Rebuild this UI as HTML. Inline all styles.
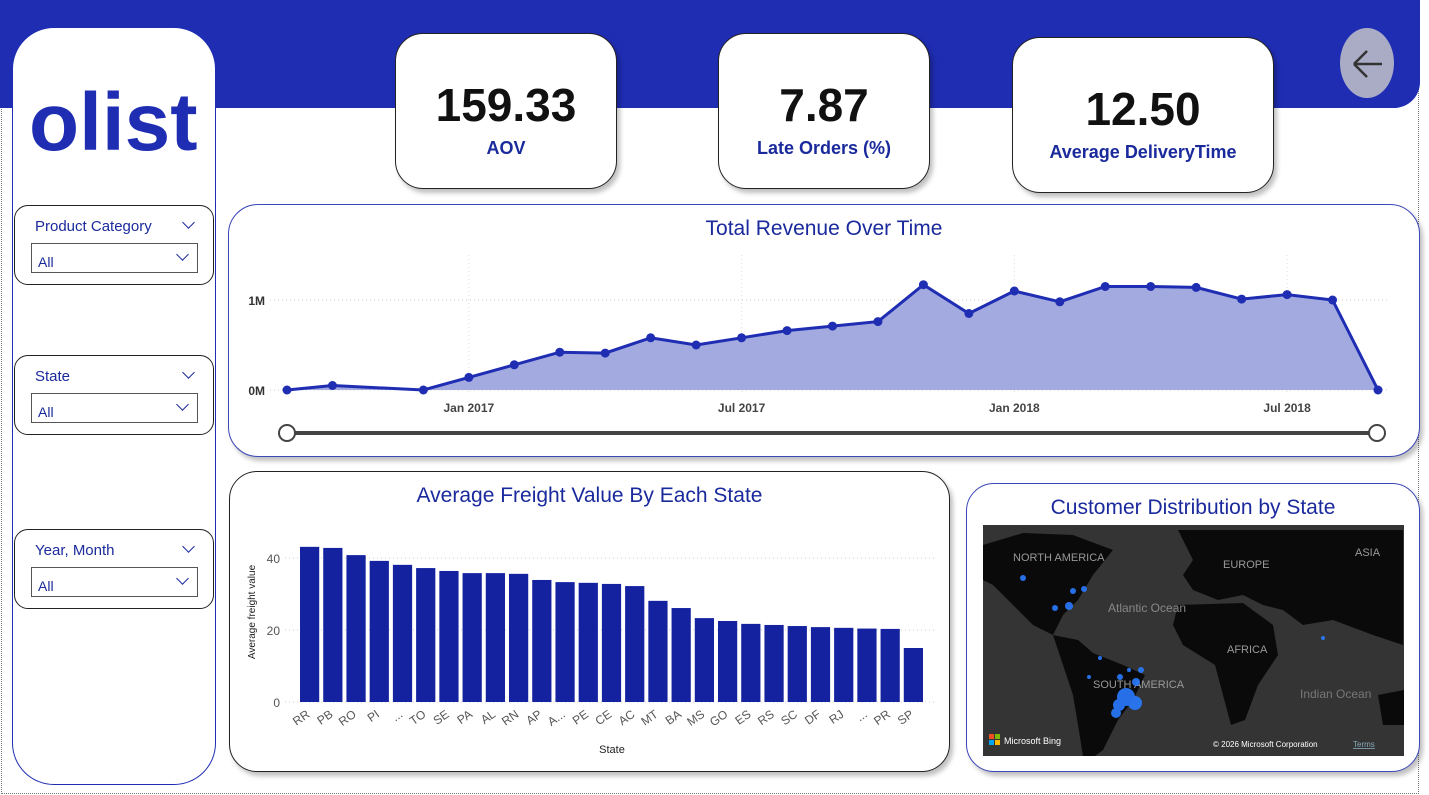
<!DOCTYPE html>
<html><head><meta charset="utf-8"><style>
*{box-sizing:border-box;margin:0;padding:0}
body{width:1429px;height:795px;background:#fff;position:relative;overflow:hidden;font-family:"Liberation Sans","DejaVu Sans",sans-serif}
.abs{position:absolute}
.card{position:absolute;background:#fff;border:1.5px solid #222;border-radius:28px;box-shadow:3px 4px 5px rgba(0,0,0,0.25)}
.kv{position:absolute;width:100%;text-align:center;font-weight:bold;color:#111;font-family:"Liberation Sans",sans-serif}
.kl{position:absolute;width:100%;text-align:center;font-weight:bold;color:#1a2a9c;font-size:18px}
.slicer{position:absolute;left:14px;width:200px;height:80px;border:1.5px solid #222;border-radius:14px;background:#fff}
.slicer .t{position:absolute;left:20px;top:12px;font-size:15px;color:#1a2a9c}
.slicer .c{position:absolute;right:20px;top:12px;width:9px;height:9px;border-right:1.5px solid #1a2a9c;border-bottom:1.5px solid #1a2a9c;transform:rotate(45deg)}
.slicer .dd{position:absolute;left:16px;top:37px;width:167px;height:30px;border:1px solid #555;font-size:14px;color:#1a2a9c;padding:10px 0 0 6px}
.slicer .dd .c{top:6px;right:10px}
.title{position:absolute;width:100%;text-align:center;color:#1a2a9c;font-size:21px}
</style></head><body>
<div class="abs" style="left:1px;top:1px;width:1418px;height:793px;border:1px dotted #777"></div>
<div class="abs" style="left:0;top:0;width:1420px;height:108px;background:#1f2db3;border-radius:0 0 26px 0"></div>
<div class="abs" style="left:12px;top:27px;width:204px;height:758px;background:#fff;border:1.5px solid #1f2db3;border-radius:42px"></div>
<div class="abs" style="left:29px;top:80px;font-size:82px;font-weight:bold;color:#1f2db3;letter-spacing:0px;line-height:86px;font-family:'Liberation Sans',sans-serif">olist</div>

<div class="slicer" style="top:205px"><div class="t">Product Category</div><div class="c"></div><div class="dd">All<div class="c"></div></div></div>
<div class="slicer" style="top:355px"><div class="t">State</div><div class="c"></div><div class="dd">All<div class="c"></div></div></div>
<div class="slicer" style="top:529px"><div class="t">Year, Month</div><div class="c"></div><div class="dd">All<div class="c"></div></div></div>

<div class="card" style="left:395px;top:33px;width:222px;height:156px"><div class="kv" style="top:44px;font-size:46px">159.33</div><div class="kl" style="top:104px">AOV</div></div>
<div class="card" style="left:718px;top:33px;width:212px;height:156px"><div class="kv" style="top:44px;font-size:46px">7.87</div><div class="kl" style="top:104px">Late Orders (%)</div></div>
<div class="card" style="left:1012px;top:37px;width:262px;height:156px"><div class="kv" style="top:44px;font-size:46px">12.50</div><div class="kl" style="top:104px">Average DeliveryTime</div></div>
<div class="abs" style="left:1338px;top:26px;width:58px;height:74px;border-radius:50%;background:#a9acc4;border:2px solid #1f2db3"><svg width="54" height="70" style="position:absolute;left:0;top:0"><path d="M14 36 H42 M14 36 L27 23 M14 36 L27 49" stroke="#333" stroke-width="2.5" fill="none"/></svg></div>

<div class="card" style="left:228px;top:204px;width:1192px;height:253px;border-color:#3a47b8;border-radius:30px"><div class="title" style="top:12px">Total Revenue Over Time</div></div>
<svg class="abs" style="left:0;top:0" width="1429" height="795" id="lc"></svg>

<div class="card" style="left:229px;top:471px;width:721px;height:301px"><div class="title" style="top:12px">Average Freight Value By Each State</div></div>
<svg class="abs" style="left:0;top:0;pointer-events:none" width="1429" height="795" id="bc"></svg>

<div class="card" style="left:966px;top:483px;width:454px;height:289px;border-color:#3a47b8"><div class="title" style="top:12px">Customer Distribution by State</div></div>
<svg class="abs" style="left:983px;top:525px" width="421" height="231">
<rect width="421" height="231" fill="#343434"/>
<path d="M0 20 L40 8 L90 10 L130 25 L110 50 L95 75 L80 90 L70 110 L50 100 L30 80 L10 60 L0 55Z" fill="#0a0a0a"/>
<path d="M70 110 L95 115 L110 128 L140 140 L162 150 L150 175 L135 195 L120 225 L112 231 L100 231 L95 200 L90 170 L80 140Z" fill="#0a0a0a"/>
<path d="M195 5 L420 5 L420 120 L390 110 L350 95 L320 100 L300 85 L280 80 L260 70 L235 75 L210 65 L200 50 L210 35Z" fill="#0a0a0a"/>
<path d="M195 80 L260 78 L290 100 L295 130 L275 160 L262 195 L248 200 L240 170 L232 140 L200 120 L190 100Z" fill="#0a0a0a"/>
<path d="M395 170 L421 165 L421 200 L400 200Z" fill="#0a0a0a"/>
<text x="30" y="36" fill="#999" font-size="11">NORTH AMERICA</text>
<text x="240" y="43" fill="#999" font-size="11">EUROPE</text>
<text x="372" y="31" fill="#999" font-size="11">ASIA</text>
<text x="125" y="87" fill="#888" font-size="12">Atlantic Ocean</text>
<text x="244" y="128" fill="#999" font-size="11">AFRICA</text>
<text x="110" y="163" fill="#999" font-size="11">SOUTH AMERICA</text>
<text x="317" y="173" fill="#777" font-size="12">Indian Ocean</text>
<g fill="#2a7bff" opacity="0.9"><circle cx="143" cy="172" r="9"/><circle cx="152" cy="178" r="7"/><circle cx="136" cy="180" r="6"/><circle cx="133" cy="188" r="5"/><circle cx="153" cy="157" r="4"/><circle cx="158" cy="145" r="3"/><circle cx="137" cy="152" r="3"/><circle cx="86" cy="81" r="4"/><circle cx="90" cy="66" r="3"/><circle cx="101" cy="64" r="3"/><circle cx="40" cy="53" r="3"/><circle cx="72" cy="83" r="3"/><circle cx="117" cy="133" r="2"/><circle cx="106" cy="152" r="2"/><circle cx="146" cy="145" r="2"/><circle cx="340" cy="113" r="2"/></g>
<rect x="6" y="209" width="5" height="5" fill="#f25022"/><rect x="12" y="209" width="5" height="5" fill="#7fba00"/><rect x="6" y="215" width="5" height="5" fill="#00a4ef"/><rect x="12" y="215" width="5" height="5" fill="#ffb900"/>
<text x="21" y="219" fill="#fff" font-size="9">Microsoft Bing</text>
<text x="230" y="222" fill="#fff" font-size="8">© 2026 Microsoft Corporation</text>
<text x="370" y="222" fill="#8ab" font-size="8" text-decoration="underline">Terms</text>
</svg>

<script>
const NS="http://www.w3.org/2000/svg";
function mk(p,t,a){const e=document.createElementNS(NS,t);for(const k in a)e.setAttribute(k,a[k]);p.appendChild(e);return e;}
// Line chart data
const months=["2016-09","2016-10","2016-12","2017-01","2017-02","2017-03","2017-04","2017-05","2017-06","2017-07","2017-08","2017-09","2017-10","2017-11","2017-12","2018-01","2018-02","2018-03","2018-04","2018-05","2018-06","2018-07","2018-08","2018-09"];
const revenue=[0,0.05,0,0.14,0.28,0.42,0.41,0.58,0.50,0.58,0.66,0.71,0.76,1.17,0.85,1.10,0.98,1.15,1.15,1.14,1.01,1.06,1.00,0];
const yTicks=[0,1];
const yTickLabels=["0M","1M"];
const xTicks=["2017-01","2017-07","2018-01","2018-07"];
const xTickLabels=["Jan 2017","Jul 2017","Jan 2018","Jul 2018"];
function mIdx(s){const [y,m]=s.split("-").map(Number);return y*12+m-1;}
const m0=mIdx(months[0]),m1=mIdx(months[months.length-1]);
const lx=v=>287+(mIdx(v)-m0)/(m1-m0)*(1378-287);
const ly=v=>390-v*90;
const lc=document.getElementById("lc");
yTicks.forEach((t,i)=>{
  const g=mk(lc,"line",{x1:270,x2:1390,y1:ly(t),y2:ly(t),stroke:"#ccc","stroke-dasharray":"1 3"});
  
  
  const tx=mk(lc,"text",{x:265,y:ly(t)+5,"text-anchor":"end","font-size":12,"font-weight":"bold",fill:"#333"});tx.textContent=yTickLabels[i];
  
  
});
xTicks.forEach((t,i)=>{
  const g=mk(lc,"line",{x1:lx(t),x2:lx(t),y1:255,y2:392,stroke:"#ddd","stroke-dasharray":"1 3"});
  
  
  const tx=mk(lc,"text",{x:lx(t),y:412,"text-anchor":"middle","font-size":12,"font-weight":"bold",fill:"#444"});tx.textContent=xTickLabels[i];
  
  
});
let pts=months.map((m,i)=>lx(m)+","+ly(revenue[i])).join(" ");
const area=mk(lc,"polygon",{points:lx(months[0])+","+ly(0)+" "+pts+" "+lx(months[months.length-1])+","+ly(0),fill:"#a3aae0"});


const line=mk(lc,"polyline",{points:pts,fill:"none",stroke:"#1f2db3","stroke-width":3});


months.forEach((m,i)=>{const c=mk(lc,"circle",{cx:lx(m),cy:ly(revenue[i]),r:4.5,fill:"#1f2db3"});
  
  });
const sl=mk(lc,"line",{x1:287,x2:1377,y1:433,y2:433,stroke:"#444","stroke-width":4});


[287,1377].forEach(x=>{const h=mk(lc,"circle",{cx:x,cy:433,r:8,fill:"#fff",stroke:"#444","stroke-width":2});
  
  });

// Bar chart data
const states=["RR","PB","RO","PI","...","TO","SE","PA","AL","RN","AP","A...","PE","CE","AC","MT","BA","MS","GO","ES","RS","SC","DF","RJ","...","PR","SP"];
const freight=[43.1,42.8,40.8,39.2,38.1,37.2,36.4,35.8,35.8,35.6,33.9,33.3,33.1,32.8,32.2,28.1,26.1,23.3,22.5,21.7,21.4,21.1,20.8,20.6,20.4,20.3,15.0];
const fTicks=[0,20,40];
const bc=document.getElementById("bc");
const by=v=>702-v*3.6;
const step=(926-299)/states.length;
const bx=i=>299+i*step;
fTicks.forEach(t=>{
  const g=mk(bc,"line",{x1:285,x2:935,y1:by(t),y2:by(t),stroke:"#ccc","stroke-dasharray":"1 3"});
  
  
  const tx=mk(bc,"text",{x:280,y:by(t)+5,"text-anchor":"end","font-size":12,fill:"#555"});tx.textContent=t;
  
  
});
states.forEach((s,i)=>{
  const r=mk(bc,"rect",{x:bx(i)+1,y:by(freight[i]),width:step-4,height:by(0)-by(freight[i]),fill:"#1422a0"});
  
  
  const cx=bx(i)+step/2;
  const tx=mk(bc,"text",{x:cx,y:716,"text-anchor":"end","font-size":12,fill:"#555",transform:"rotate(-35 "+cx+" 716)"});tx.textContent=s;
  
  
});
const xt=mk(bc,"text",{x:612,y:753,"text-anchor":"middle","font-size":11,fill:"#222"});xt.textContent="State";


const yt=mk(bc,"text",{x:255,y:612,"text-anchor":"middle","font-size":10,fill:"#222",transform:"rotate(-90 255 612)"});yt.textContent="Average freight value";


</script>
</body></html>
